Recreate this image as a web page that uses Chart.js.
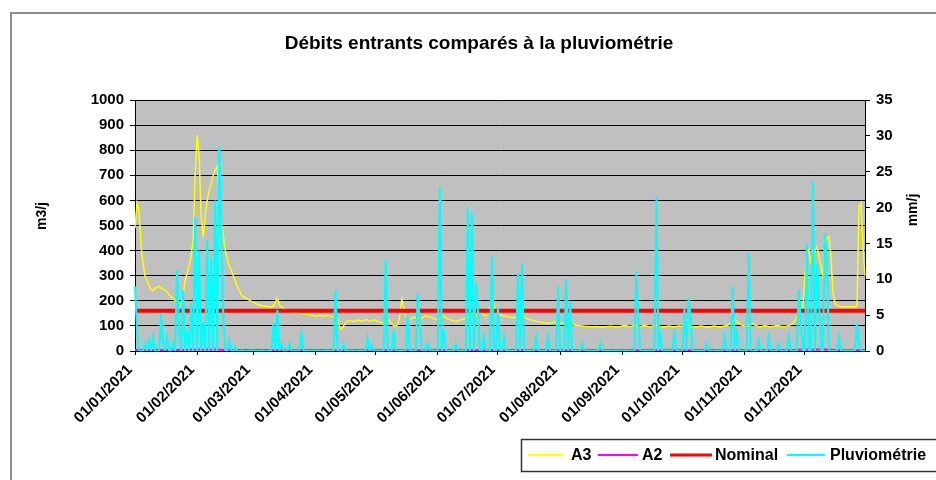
<!DOCTYPE html>
<html><head><meta charset="utf-8">
<script src="https://cdn.jsdelivr.net/npm/chart.js@4"></script>
<style>html,body{margin:0;padding:0;background:#fff;}canvas{display:block}</style>
</head><body>
<canvas id="c" width="936" height="480"></canvas>
<script>
const chartTitle = 'Débits entrants comparés à la pluviométrie';
const seriesNames = ['A3', 'A2', 'Nominal', 'Pluviométrie'];
const monthNums = ['01','02','03','04','05','06','07','08','09','10','11','12'];
const monthDays = [31,28,31,30,31,30,31,31,30,31,30,31];
const yLeftTicks = [0,100,200,300,400,500,600,700,800,900,1000];
const yRightTicks = [0,5,10,15,20,25,30,35];

// A3 daily inflow (m3/j), one row per month
const a3 = [
 490,590,560,420,350,300,280,260,245,240,250,255,258,250,245,243,235,225,216,210,200,190,178,185,220,280,310,340,380,442,700,
 860,774,535,455,540,600,640,668,700,721,734,620,510,460,402,370,340,323,300,280,256,240,225,216,212,208,203,198,
 194,190,186,183,180,179,178,177,176,175,178,195,211,185,175,171,165,160,157,155,153,152,151,150,149,148,146,145,144,143,142,
 137,140,142,140,138,141,143,140,138,135,132,128,95,85,100,112,118,122,120,117,120,124,121,118,122,125,123,119,121,124,
 122,118,115,112,110,125,130,118,108,102,98,105,140,205,175,140,132,128,130,135,133,130,128,130,137,140,138,136,133,130,126,
 124,128,140,138,132,128,125,122,120,118,120,123,126,128,130,135,145,150,148,140,150,160,152,145,140,150,175,205,185,160,
 150,145,142,140,138,136,135,133,132,138,130,140,150,138,130,127,125,123,120,118,117,115,114,113,112,111,110,112,115,113,110,
 112,110,108,107,106,108,105,104,103,102,101,100,99,98,98,97,96,97,98,97,96,95,96,97,98,99,98,97,96,97,98,
 100,102,101,99,98,100,103,101,99,98,100,102,100,98,97,99,104,102,100,98,97,96,98,100,99,97,96,98,100,99,
 100,103,105,102,100,98,97,96,98,100,99,97,96,95,97,99,100,98,97,96,98,100,102,104,108,115,124,118,110,105,102,
 100,98,102,105,110,104,100,98,97,99,101,100,98,97,99,100,102,101,99,98,97,99,102,105,110,120,135,150,162,175,
 300,380,402,350,320,400,415,380,340,300,420,450,455,380,231,190,182,178,176,175,176,175,176,177,176,175,178,575,590,420,300
];

// A2 daily inflow (m3/j)
const a2 = [
 4,4,5,4,3,3,4,4,3,3,4,5,4,4,3,3,4,4,3,3,4,4,5,5,4,4,5,5,6,6,5,
 5,6,6,5,5,6,6,5,5,6,6,5,5,4,4,5,4,4,4,3,4,4,3,3,4,4,3,3,
 3,4,4,3,3,3,4,4,3,3,4,4,3,3,3,4,3,3,3,4,3,3,3,3,4,3,3,3,3,4,3,
 3,3,3,4,3,3,3,3,4,3,3,3,3,3,4,3,3,3,3,3,4,3,3,3,3,3,4,3,3,3,
 3,3,4,3,3,4,3,3,3,3,4,3,3,3,3,4,3,3,3,3,4,3,3,3,3,4,3,3,3,3,4,
 3,4,3,3,3,3,4,3,3,3,3,4,3,3,3,3,4,4,3,3,3,3,4,3,3,3,3,4,3,3,
 3,3,4,3,3,3,3,4,3,3,3,3,4,3,3,3,3,4,3,3,3,3,4,3,3,3,3,4,3,3,3,
 3,4,3,3,3,3,4,3,3,3,3,4,3,3,3,3,4,3,3,3,3,4,3,3,3,3,4,3,3,3,3,
 4,3,3,3,3,4,3,3,3,3,4,3,3,3,3,4,3,3,3,3,4,3,3,3,3,4,3,3,3,3,
 4,3,3,3,3,4,3,3,3,3,4,3,3,3,3,4,3,3,3,3,4,3,3,3,3,4,3,3,3,3,4,
 3,3,3,3,4,3,3,3,3,4,3,3,3,3,4,3,3,3,3,4,3,3,3,3,4,4,4,5,5,5,
 5,5,6,6,5,5,6,6,5,5,6,6,5,5,4,4,4,4,3,3,3,3,3,3,3,3,3,4,4,4,3
];

// Rainfall (mm/j)
const rain = [
 9,3,0,0,0,1,0,1.5,0,2,0,0,0,5.3,1,0,2,0,0,1,0,11.3,3,0,8.5,0,3,0,6.7,0,18.7,
 0,14,0,4,0,15.5,0,13,0,21,0,28.5,17.8,5,0,0,1.5,0,0,0.5,0,0,0,0,0,0,0,0,
 0,0,0,0,0,0,0,0,0,0,3.9,0,5.7,0,1,0,0,0,1,0,0,0,0,0,2.5,0,0,0,0,0,0,
 0,0,0,0,0,0,0,0,0,0,8.5,0,0,0,1,0,0,0,0,0,0,0,0,0,0,0,1.8,0,0.8,0,
 0,0,0,0,0,12.7,0,0,0,3,0,0,0,0,0,0,5,0,0,0,0,8,4,0,0,0,1,0,0,0,0,
 0,22.9,0,3,0,0,0,0,0,1,0,0,0,0,0,20.1,0,19.2,0,9.5,6,0,0,2,0,0,0,13.2,0,0,
 6,0,0,2,0,0,0,0,0,0,10.9,0,12.2,0,0,0,0,0,0,2,0,0,0,0,0,2,0,0,0,0,9,
 0,0,0,9.9,0,7,0,0,0,0,0,1,0,0,0,0,0,0,0,0,1,0,0,0,0,0,0,0,0,0,0,
 0,0,0,0,0,0,0,11,4,0,0,0,0,0,0,0,0,21.5,0,2,0,0,0,0,0,0,3,0,0,0,
 0,6,0,7.4,5,0,0,0,0,0,0,0,1,0,0,0,0,0,0,0,0,2,0,0,0,9,0,3,0,0,0,
 0,0,13.6,0,0,0,0,1.5,0,0,0,0,2,0,0,0,0,1,0,0,0,0,2,0,0,0,0,8.5,4,0,
 0,15,0,0,23.6,0,12.2,8,0,0,16.4,13,0,0,0,0,0,2,0,0,0,0,0,0,0,0,3.9,1,0,0,0
];

const nominalValue = 160;

// category labels: every day of 2021
const dayLabels = [];
monthDays.forEach((n, m) => { for (let d = 1; d <= n; d++) dayLabels.push(String(d).padStart(2,'0') + '/' + monthNums[m] + '/2021'); });

const FONT = "'Liberation Sans', Arial, sans-serif";
const colors = { a3: '#ffff00', a2: '#ff00ff', nominal: '#ff0000', rain: '#00ffff' };

const decor = {
  id: 'decor',
  beforeDraw(chart) {
    const { ctx, chartArea: a } = chart;
    ctx.save();
    ctx.fillStyle = '#ffffff';
    ctx.fillRect(0, 0, chart.width, chart.height);
    ctx.strokeStyle = '#8c8c8c';
    ctx.lineWidth = 2;
    ctx.strokeRect(11, 13, 1000, 1000);
    ctx.fillStyle = '#c0c0c0';
    ctx.fillRect(a.left, a.top, a.right - a.left, a.bottom - a.top);
    ctx.restore();
  },
  afterDraw(chart) {
    const { ctx } = chart;
    ctx.save();
    ctx.fillStyle = '#000';
    ctx.textAlign = 'center';
    ctx.textBaseline = 'middle';
    ctx.font = 'bold 19px ' + FONT;
    ctx.fillText(chartTitle, 479, 44);
    // axis titles (both read bottom to top)
    ctx.font = 'bold 14px ' + FONT;
    ctx.save(); ctx.translate(42, 216); ctx.rotate(-Math.PI / 2); ctx.fillText('m3/j', 0, 0); ctx.restore();
    ctx.save(); ctx.translate(913, 210); ctx.rotate(-Math.PI / 2); ctx.fillText('mm/j', 0, 0); ctx.restore();
    // legend box
    ctx.strokeStyle = '#333';
    ctx.lineWidth = 1.5;
    ctx.strokeRect(521.5, 439.5, 440, 32);
    const ly = 455;
    const items = [
      { c: colors.a3, w: 2, x0: 528, x1: 563, tx: 571, t: seriesNames[0] },
      { c: colors.a2, w: 2, x0: 598, x1: 638, tx: 642, t: seriesNames[1] },
      { c: colors.nominal, w: 3, x0: 670, x1: 712, tx: 715, t: seriesNames[2] },
      { c: colors.rain, w: 2, x0: 787, x1: 825, tx: 830, t: seriesNames[3] }
    ];
    ctx.font = 'bold 16px ' + FONT;
    ctx.textAlign = 'left';
    items.forEach(it => {
      ctx.strokeStyle = it.c; ctx.lineWidth = it.w;
      ctx.beginPath(); ctx.moveTo(it.x0, ly); ctx.lineTo(it.x1, ly); ctx.stroke();
      ctx.fillStyle = '#000';
      ctx.fillText(it.t, it.tx, ly + 1);
    });
    ctx.restore();
  }
};

new Chart(document.getElementById('c'), {
  type: 'line',
  data: {
    labels: dayLabels,
    datasets: [
      { label: seriesNames[3], data: rain, yAxisID: 'yR', borderColor: colors.rain, borderWidth: 2, pointRadius: 0, tension: 0, order: 1 },
      { label: seriesNames[2], data: [{ x: dayLabels[0], y: nominalValue }, { x: dayLabels[dayLabels.length - 1], y: nominalValue }], yAxisID: 'y', borderColor: colors.nominal, borderWidth: 4, pointRadius: 0, order: 2 },
      { label: seriesNames[1], data: a2, yAxisID: 'y', borderColor: colors.a2, borderWidth: 2, pointRadius: 0, tension: 0, order: 3 },
      { label: seriesNames[0], data: a3, yAxisID: 'y', borderColor: colors.a3, borderWidth: 1.5, pointRadius: 0, tension: 0, order: 4 }
    ]
  },
  options: {
    responsive: false,
    animation: false,
    devicePixelRatio: 1,
    layout: { padding: { top: 100, left: 0, right: 0, bottom: 0 } },
    plugins: { legend: { display: false }, title: { display: false }, tooltip: { enabled: false } },
    scales: {
      x: {
        type: 'category',
        afterBuildTicks(scale) { scale.ticks = scale.ticks.filter(t => dayLabels[t.value] && dayLabels[t.value].startsWith('01/')); },
        afterFit(scale) { scale.height = 129; },
        grid: { drawOnChartArea: false, color: '#000', tickLength: 4, tickColor: '#000' },
        border: { color: '#000', width: 1 },
        ticks: {
          autoSkip: false, minRotation: 45, maxRotation: 45, padding: 6, labelOffset: -5,
          color: '#000', font: { family: FONT, size: 15, weight: 'bold' },
          callback(value) { return this.getLabelForValue(value); }
        }
      },
      y: {
        position: 'left', min: 0, max: 1000,
        afterBuildTicks(scale) { scale.ticks = yLeftTicks.map(v => ({ value: v })); },
        afterFit(scale) { scale.width = 135; },
        grid: { color: '#000', lineWidth: 1, tickLength: 5, tickColor: '#000' },
        border: { color: '#000', width: 1 },
        ticks: { color: '#000', padding: 6, font: { family: FONT, size: 15, weight: 'bold' }, callback: v => String(v) }
      },
      yR: {
        position: 'right', min: 0, max: 35,
        afterBuildTicks(scale) { scale.ticks = yRightTicks.map(v => ({ value: v })); },
        afterFit(scale) { scale.width = 71; },
        grid: { drawOnChartArea: false, tickLength: 5, tickColor: '#000' },
        border: { color: '#000', width: 1 },
        ticks: { color: '#000', padding: 6, font: { family: FONT, size: 15, weight: 'bold' }, callback: v => String(v) }
      }
    }
  },
  plugins: [decor]
});
</script>
</body></html>
